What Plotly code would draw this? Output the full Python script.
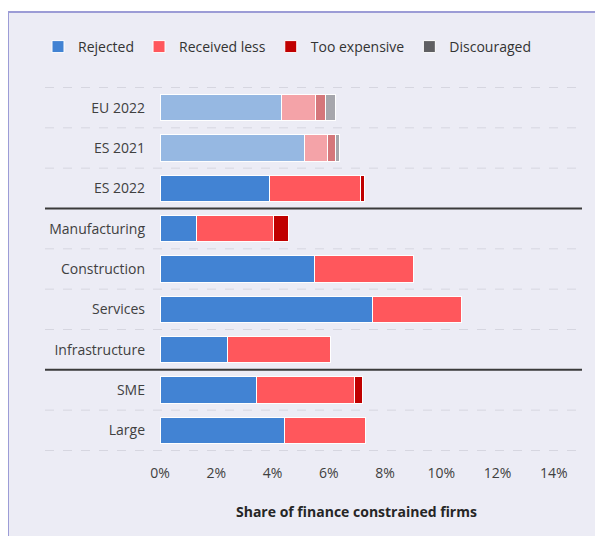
import plotly.graph_objects as go

categories = ["EU 2022", "ES 2021", "ES 2022", "Manufacturing", "Construction",
              "Services", "Infrastructure", "SME", "Large"]
comparison = ["EU 2022", "ES 2021"]  # drawn in faded colours

rejected = [4.31, 5.12, 3.88, 1.29, 5.50, 7.57, 2.39, 3.43, 4.41]
received_less = [1.20, 0.85, 3.24, 2.76, 3.52, 3.15, 3.67, 3.50, 2.91]
too_expensive = [0.38, 0.27, 0.14, 0.50, 0, 0, 0, 0.28, 0]
discouraged = [0.34, 0.15, 0, 0, 0, 0, 0, 0, 0]

series = [
    ("Rejected", rejected, "#4283D3", "#96B8E2"),
    ("Received less", received_less, "#FF575C", "#F4A3A8"),
    ("Too expensive", too_expensive, "#C00000", "#D5777B"),
    ("Discouraged", discouraged, "#5F5F62", "#A6A6AC"),
]

FONT = "Open Sans"
fig = go.Figure()

for name, vals, col, faded in series:
    for is_cmp in (True, False):
        ys, xs = [], []
        for c, v in zip(categories, vals):
            if (c in comparison) == is_cmp:
                ys.append(c)
                xs.append(v if v else None)
        fig.add_trace(go.Bar(
            y=ys, x=xs, orientation="h", name=name,
            marker=dict(color=faded if is_cmp else col,
                        line=dict(color="white", width=1)),
            showlegend=not is_cmp, legendgroup=name,
            hovertemplate="%{y}: %{x:.2f}%<extra>" + name + "</extra>",
        ))

# page is offset by the 8px body margin; coordinates below are page pixels
OFF = 8
FW, FH = 603 - OFF, 536 - OFF
L, R, T, B = 160 - OFF, 582 - OFF, 87 - OFF, 451 - OFF
W, H = R - L, B - T
def px(x): return (x - OFF - L) / W
def py(y): return (B - (y - OFF)) / H

shapes = [dict(type="rect", xref="paper", yref="paper",
               x0=px(8), x1=px(640), y0=py(580), y1=py(12),
               fillcolor="#ECECF5", line=dict(color="#9C9CD6", width=2),
               layer="below")]
n = len(categories)
for k in range(n + 1):
    yb = k - 0.5
    solid = k in (3, 7)
    shapes.append(dict(
        type="line", xref="paper", yref="y", x0=px(45), x1=1, y0=yb, y1=yb,
        line=dict(color="#3A3A3A" if solid else "#D6D6E0",
                  width=2 if solid else 1, dash="solid" if solid else "dash"),
        layer="above" if solid else "below"))

fig.update_layout(
    width=FW, height=FH,
    margin=dict(l=L, r=FW - R, t=T, b=FH - B),
    paper_bgcolor="white", plot_bgcolor="rgba(0,0,0,0)",
    barmode="stack", bargap=0.35,
    font=dict(family=FONT, size=14, color="#404040"),
    shapes=shapes,
    showlegend=True,
    legend=dict(orientation="h", x=px(38), xanchor="left", y=py(47),
                yanchor="middle", bgcolor="rgba(0,0,0,0)",
                font=dict(family=FONT, size=14, color="#333333"),
                itemwidth=30, tracegroupgap=0),
    annotations=[dict(text="<b>Share of finance constrained firms</b>",
                      xref="paper", yref="paper", x=px(356), y=py(511),
                      xanchor="center", yanchor="middle", showarrow=False,
                      font=dict(family=FONT, size=14, color="#262626"))],
)
fig.update_xaxes(range=[0, 15], tickvals=list(range(0, 15, 2)),
                 ticktext=[f"{v}%" for v in range(0, 15, 2)],
                 showgrid=False, zeroline=False, showline=False,
                 ticks="", ticklabelstandoff=12,
                 tickfont=dict(family=FONT, size=14, color="#404040"))
fig.update_yaxes(categoryorder="array", categoryarray=categories,
                 autorange="reversed", showgrid=False, zeroline=False,
                 showline=False, ticks="", ticklabelstandoff=14,
                 tickfont=dict(family=FONT, size=14, color="#404040"))

fig.write_html("out.html")
